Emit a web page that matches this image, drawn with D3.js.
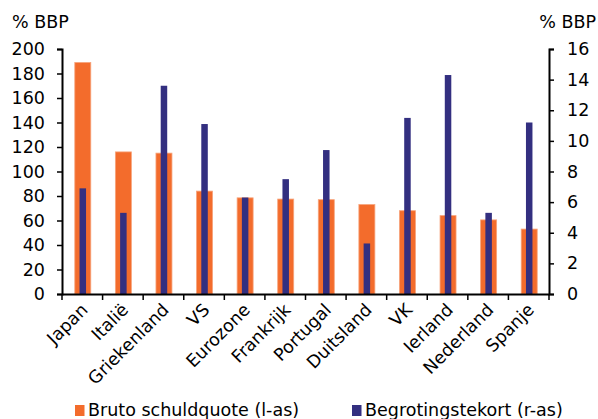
<!DOCTYPE html>
<html>
<head>
<meta charset="utf-8">
<script src="https://cdn.jsdelivr.net/npm/d3@7"></script>
<style>
  html, body { margin: 0; padding: 0; background: #fff; }
  svg { display: block; }
  text { font-family: "DejaVu Sans", Verdana, sans-serif; fill: #000; }
</style>
</head>
<body>
<svg id="chart" width="598" height="419"></svg>
<script>
const categories = ["Japan", "Italië", "Griekenland", "VS", "Eurozone", "Frankrijk", "Portugal", "Duitsland", "VK", "Ierland", "Nederland", "Spanje"];
const schuldquote = [189, 116, 115, 84, 78.5, 77.5, 77, 73, 68, 64, 60.5, 53];
const tekort = [6.9, 5.3, 13.6, 11.1, 6.3, 7.5, 9.4, 3.3, 11.5, 14.3, 5.3, 11.2];
const leftTicks = [0, 20, 40, 60, 80, 100, 120, 140, 160, 180, 200];
const rightTicks = [0, 2, 4, 6, 8, 10, 12, 14, 16];
const seriesNames = ["Bruto schuldquote (l-as)", "Begrotingstekort (r-as)"];
const colors = ["#F36C2C", "#332F80"];

const FS = "17.5px";
const svg = d3.select("#chart");
const L = 62, R = 549, T = 49, B = 294;

const x = d3.scaleBand().domain(categories).range([L, R]).padding(0);
const yL = d3.scaleLinear().domain([0, 200]).range([B, T]);
const yR = d3.scaleLinear().domain([0, 16]).range([B, T]);

const orangeW = 16, blueW = 6.5;

// orange bars
svg.append("g").selectAll("rect").data(categories).join("rect")
  .attr("x", d => x(d) + x.bandwidth() / 2 - orangeW / 2 + 0.5)
  .attr("width", orangeW)
  .attr("y", (d, i) => yL(schuldquote[i]))
  .attr("height", (d, i) => B - yL(schuldquote[i]))
  .attr("fill", colors[0])
  .attr("stroke", "#F7A47C").attr("stroke-width", 0.8);

// blue bars
svg.append("g").selectAll("rect").data(categories).join("rect")
  .attr("x", d => x(d) + x.bandwidth() / 2 - blueW / 2 + 0.5)
  .attr("width", blueW)
  .attr("y", (d, i) => yR(tekort[i]))
  .attr("height", (d, i) => B - yR(tekort[i]))
  .attr("fill", colors[1]);

// left axis
const gl = svg.append("g").attr("transform", `translate(${L},0)`)
  .call(d3.axisLeft(yL).tickValues(leftTicks).tickSize(5).tickSizeOuter(5).tickPadding(12));
// right axis
const gr = svg.append("g").attr("transform", `translate(${R},0)`)
  .call(d3.axisRight(yR).tickValues(rightTicks).tickSize(5).tickSizeOuter(5).tickPadding(13));
// x axis
const gx = svg.append("g").attr("transform", `translate(0,${B})`)
  .call(d3.axisBottom(x).tickSize(0).tickFormat(""));
gx.selectAll(".tick").remove();
gx.selectAll(".cat-tick").data(d3.range(categories.length + 1)).join("line")
  .attr("x1", i => L + i * x.bandwidth()).attr("x2", i => L + i * x.bandwidth())
  .attr("y1", 0).attr("y2", 6).attr("stroke", "#000").attr("stroke-width", 1.5);

[gl, gr, gx].forEach(g => {
  g.selectAll("path.domain").attr("stroke", "#000").attr("stroke-width", 2);
  g.selectAll(".tick line").attr("stroke", "#000").attr("stroke-width", 1.5);
  g.selectAll(".tick text").style("font-family", '"DejaVu Sans", Verdana, sans-serif')
    .style("font-size", FS).attr("fill", "#000");
});

// category labels
svg.append("g").selectAll("text").data(categories).join("text")
  .attr("transform", d => `translate(${x(d) + x.bandwidth() / 2 + 6.5},${B + 17}) rotate(-45)`)
  .attr("text-anchor", "end")
  .style("font-size", FS)
  .text(d => d);

// axis titles
svg.append("text").attr("x", 12).attr("y", 28).style("font-size", FS).text("% BBP");
svg.append("text").attr("x", 596).attr("y", 28).attr("text-anchor", "end").style("font-size", FS).text("% BBP");

// legend
const legend = svg.append("g");
const lx = [75, 352];
seriesNames.forEach((name, i) => {
  legend.append("rect").attr("x", lx[i]).attr("y", 405).attr("width", 9.5).attr("height", 11).attr("fill", colors[i]);
  legend.append("text").attr("x", lx[i] + 13).attr("y", 416).style("font-size", FS).text(name);
});
</script>
</body>
</html>
